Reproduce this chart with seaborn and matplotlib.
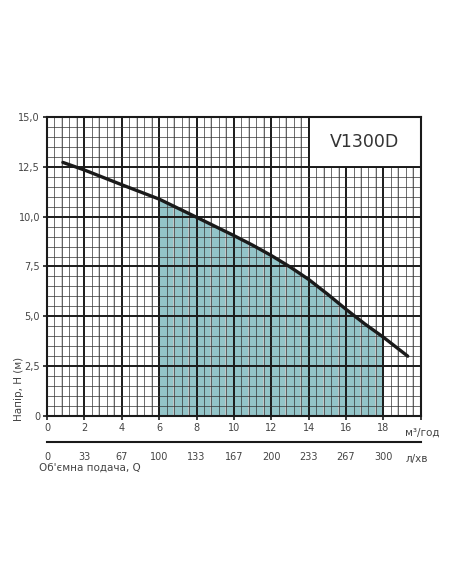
import numpy as np
import pandas as pd
import seaborn as sns
import matplotlib.pyplot as plt
from matplotlib.patches import Rectangle

# Pump curve V1300D: flow Q (m3/h) vs head H (m)
flow_m3h = [0.85, 2, 4, 6, 8, 10, 11, 12, 13, 14, 15, 16, 17, 18, 19.3]
head_m = [12.72, 12.34, 11.6, 10.88, 9.97, 9.05, 8.57, 8.05, 7.48, 6.85,
          6.12, 5.35, 4.62, 3.95, 3.0]

x_ticks = [0, 2, 4, 6, 8, 10, 12, 14, 16, 18, 20]
x_labels = ['0', '2', '4', '6', '8', '10', '12', '14', '16', '18', '']
lmin_labels = ['0', '33', '67', '100', '133', '167', '200', '233', '267', '300', '']
y_ticks = [0, 2.5, 5.0, 7.5, 10.0, 12.5, 15.0]
y_labels = ['0', '2,5', '5,0', '7,5', '10,0', '12,5', '15,0']
work_range = (6, 18)
model = 'V1300D'

df = pd.DataFrame({'Q': flow_m3h, 'H': head_m})

sns.set_style('white')
plt.rcParams['font.family'] = ['DejaVu Sans']
txt = '#444444'
ink = '#1a1a1a'

fig = plt.figure(figsize=(4.52, 5.84), dpi=100)
ax = fig.add_axes([0.104, 0.2877, 0.827, 0.512])

# working area fill
seg = df[(df.Q >= work_range[0]) & (df.Q <= work_range[1])]
ax.fill_between(seg.Q, 0, seg.H, color='#93c4c8', zorder=1, lw=0)

# graph paper grid
ax.set_xlim(0, 20)
ax.set_ylim(0, 15)
ax.set_xticks(x_ticks)
ax.set_xticklabels(x_labels)
ax.set_yticks(y_ticks)
ax.set_yticklabels(y_labels)
ax.set_xticks(np.arange(0, 20.01, 0.4), minor=True)
ax.set_yticks(np.arange(0, 15.01, 0.5), minor=True)
ax.set_axisbelow(False)
ax.grid(which='minor', color='#333333', lw=0.5, zorder=2)
ax.grid(which='major', color=ink, lw=1.4, zorder=2.5)
ax.vlines(np.concatenate([np.arange(0.8, 20, 2), np.arange(1.6, 20, 2)]),
          0, 15, color='#c8c8c8', lw=1.2, zorder=2.2)

sns.lineplot(data=df, x='Q', y='H', color=ink, lw=2.4, ax=ax, zorder=4,
             solid_capstyle='round', solid_joinstyle='round')

# model name box
ax.add_patch(Rectangle((14, 12.5), 6, 2.5, facecolor='white',
                       edgecolor=ink, lw=1.4, zorder=5))
ax.text(17, 13.75, model, ha='center', va='center', fontsize=12.5,
        color='#333333', zorder=6)

for s in ax.spines.values():
    s.set_color(ink)
    s.set_linewidth(1.5)
    s.set_zorder(5)
ax.tick_params(which='major', length=3, width=1.2, color=ink,
               labelsize=7, labelcolor=txt, pad=2, bottom=True, left=True)
ax.tick_params(which='minor', length=0)
ax.set_xlabel('')
ax.set_ylabel('Напір, Н (м)', fontsize=7.5, color=txt)
ax.yaxis.set_label_coords(-0.062, 0.092)
ax.yaxis.label.set_va('bottom')

# second flow scale in l/min
ax2 = fig.add_axes([0.104, 0.243, 0.827, 0.001])
ax2.set_xlim(0, 20)
ax2.set_xticks(x_ticks)
ax2.set_xticklabels(lmin_labels)
ax2.set_yticks([])
for k in ['top', 'left', 'right']:
    ax2.spines[k].set_visible(False)
ax2.spines['bottom'].set_color(ink)
ax2.spines['bottom'].set_linewidth(1.5)
ax2.tick_params(length=4, width=1.2, color=ink, labelsize=7,
                labelcolor=txt, pad=3)
ax2.set_facecolor('none')

fig.text(39 / 452, 1 - 468 / 584, 'Об\'ємна подача, Q', ha='left',
         va='center', fontsize=7.5, color=txt)
fig.text(0.934, 0.2586, 'м³/год', ha='center', va='center', fontsize=7.5,
         color=txt)
fig.text(0.923, 0.214, 'л/хв', ha='center', va='center', fontsize=7.5,
         color=txt)

fig.savefig('out.png', dpi=100)
